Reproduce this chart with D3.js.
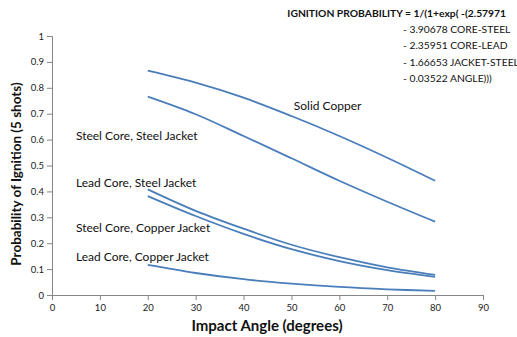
<!DOCTYPE html>
<html>
<head>
<meta charset="utf-8">
<script src="https://cdn.jsdelivr.net/npm/d3@7"></script>
<style>
  html, body { margin: 0; padding: 0; background: #fff; }
  svg { display: block; font-family: Lato, "Open Sans", sans-serif; }
</style>
</head>
<body>
<svg id="chart" width="517" height="337"></svg>
<script>
// Impact angles (degrees) at which each curve is evaluated
const angles = [20, 30, 40, 50, 60, 70, 80];

// Probability of ignition (5 shots) for each projectile construction
const solidCopper       = [0.866, 0.820, 0.762, 0.691, 0.614, 0.530, 0.441];
const steelCoreSteelJkt = [0.766, 0.698, 0.614, 0.528, 0.441, 0.360, 0.283];
const leadCoreSteelJkt  = [0.408, 0.325, 0.256, 0.194, 0.146, 0.107, 0.078];
const steelCoreCopperJkt= [0.382, 0.305, 0.236, 0.177, 0.131, 0.096, 0.070];
const leadCoreCopperJkt = [0.116, 0.085, 0.061, 0.044, 0.031, 0.022, 0.016];

const seriesNames = ["Solid Copper", "Steel Core, Steel Jacket", "Lead Core, Steel Jacket",
                     "Steel Core, Copper Jacket", "Lead Core, Copper Jacket"];
const seriesValues = [solidCopper, steelCoreSteelJkt, leadCoreSteelJkt, steelCoreCopperJkt, leadCoreCopperJkt];

// Axis ticks
const xTicks = [0, 10, 20, 30, 40, 50, 60, 70, 80, 90];
const yTicks = [0, 0.1, 0.2, 0.3, 0.4, 0.5, 0.6, 0.7, 0.8, 0.9, 1];

// Regression equation text block
const equationLines = [
  "IGNITION PROBABILITY  =  1/(1+exp( -(2.57971",
  "- 3.90678 CORE-STEEL",
  "- 2.35951 CORE-LEAD",
  "- 1.66653 JACKET-STEEL",
  "- 0.03522 ANGLE)))"
];

const svg = d3.select("#chart");
const plotLeft = 52, plotRight = 483, plotTop = 36, plotBottom = 295;

const x = d3.scaleLinear().domain([0, 90]).range([plotLeft, plotRight]);
const y = d3.scaleLinear().domain([0, 1]).range([plotBottom, plotTop]);

const axisColor = "#868686";

// Y axis
const yAxis = svg.append("g")
  .attr("transform", `translate(${plotLeft},0)`)
  .call(d3.axisLeft(y).tickValues(yTicks).tickSize(5).tickPadding(3)
        .tickFormat(d => d3.format("~g")(d)));
yAxis.selectAll("path, line").attr("stroke", axisColor);
yAxis.selectAll("text").attr("font-size", 9.5).attr("fill", "#222")
  .attr("font-family", "Lato, sans-serif");

// X axis
const xAxis = svg.append("g")
  .attr("transform", `translate(0,${plotBottom})`)
  .call(d3.axisBottom(x).tickValues(xTicks).tickSize(5).tickPadding(4));
xAxis.selectAll("path, line").attr("stroke", axisColor);
xAxis.selectAll("text").attr("font-size", 9.5).attr("fill", "#222")
  .attr("font-family", "Lato, sans-serif");

// Axis titles
svg.append("text")
  .attr("x", 267)
  .attr("y", 331)
  .attr("text-anchor", "middle")
  .attr("font-size", 15)
  .attr("font-weight", "bold")
  .attr("fill", "#111")
  .text("Impact Angle (degrees)");

svg.append("text")
  .attr("transform", `translate(21,174) rotate(-90)`)
  .attr("text-anchor", "middle")
  .attr("font-size", 13.5)
  .attr("font-weight", "bold")
  .attr("fill", "#111")
  .text("Probability of Ignition (5 shots)");

// Curves
const line = d3.line()
  .x(d => x(d[0]))
  .y(d => y(d[1]))
  .curve(d3.curveCatmullRom.alpha(0.5));

seriesValues.forEach((vals, i) => {
  svg.append("path")
    .datum(angles.map((a, j) => [a, vals[j]]))
    .attr("fill", "none")
    .attr("stroke", "#4a7ebb")
    .attr("stroke-width", 1.8)
    .attr("d", line)
    .attr("class", "series")
    .attr("data-name", seriesNames[i]);
});

// Curve labels
const labelPos = [
  { ax: 50.5, p: 0.73 },
  { ax: 5, p: 0.615 },
  { ax: 5, p: 0.435 },
  { ax: 5, p: 0.26 },
  { ax: 5, p: 0.148 }
];
seriesNames.forEach((name, i) => {
  svg.append("text")
    .attr("x", x(labelPos[i].ax))
    .attr("y", y(labelPos[i].p))
    .attr("dy", "0.35em")
    .attr("font-size", 12)
    .attr("fill", "#111")
    .text(name);
});

// Equation block
svg.append("text")
  .attr("x", 506).attr("y", 16.5)
  .attr("text-anchor", "end")
  .attr("font-size", 10.3)
  .attr("font-weight", "bold")
  .attr("fill", "#111")
  .text(equationLines[0]);
equationLines.slice(1).forEach((t, i) => {
  svg.append("text")
    .attr("x", 403).attr("y", 32.5 + i * 16.5)
    .attr("font-size", 10.3)
    .attr("fill", "#111")
    .text(t);
});
</script>
</body>
</html>
